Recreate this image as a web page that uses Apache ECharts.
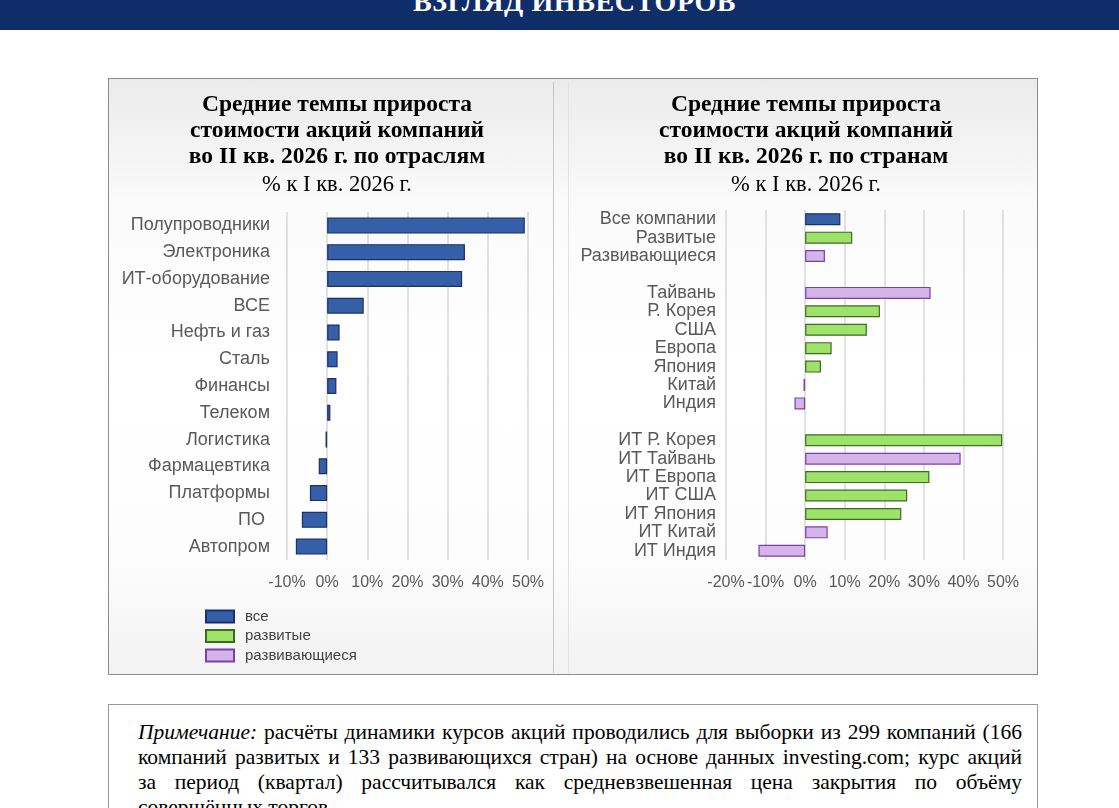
<!DOCTYPE html>
<html lang="ru">
<head>
<meta charset="utf-8">
<script src="https://cdn.jsdelivr.net/npm/echarts@6/dist/echarts.min.js"></script>
<style>
  html, body { margin:0; padding:0; width:1119px; height:808px; overflow:hidden; background:#fff; }
  #banner { position:absolute; left:0; top:0; width:1119px; height:30px; background:#0f2d69; overflow:hidden; }
  #banner span { position:absolute; left:15px; width:1119px; text-align:center; top:-12px; color:#fff;
    font-family:"Liberation Serif", serif; font-weight:bold; font-size:28px; line-height:28px; letter-spacing:0.6px; }
  #panel { position:absolute; left:108px; top:78px; width:928px; height:595px; border:1px solid #8c8c8c;
    background:linear-gradient(to bottom, #ebebeb 0%, #fbfbfb 22%, #ffffff 50%, #fdfdfd 80%, #f2f2f2 100%); }
  #sep1 { position:absolute; left:553px; top:82px; width:1px; height:591px; background:#c8c8c8; }
  #sep2 { position:absolute; left:568px; top:82px; width:1px; height:591px; background:#e2e2e2; }
  #chart { position:absolute; left:0; top:0; width:1119px; height:808px; }
  #note { position:absolute; left:108px; top:704px; width:928px; height:130px; border:1px solid #999; background:#fff; }
  #note .ln { position:absolute; left:29px; width:884px; font-family:"Liberation Serif", serif; font-size:21.5px;
    line-height:25px; color:#000; text-align:justify; text-align-last:justify; white-space:nowrap; }
  #note .ln.last { text-align-last:left; text-align:left; }
</style>
</head>
<body>
<div id="banner"><span>ВЗГЛЯД ИНВЕСТОРОВ</span></div>
<div id="panel"></div>
<div id="sep1"></div>
<div id="sep2"></div>
<div id="chart"></div>
<div id="note">
  <div class="ln" style="top:15px;"><i>Примечание:</i> расчёты динамики курсов акций проводились для выборки из 299 компаний (166</div>
  <div class="ln" style="top:40px;">компаний развитых и 133 развивающихся стран) на основе данных investing.com; курс акций</div>
  <div class="ln" style="top:65px;">за период (квартал) рассчитывался как средневзвешенная цена закрытия по объёму</div>
  <div class="ln last" style="top:90px;">совершённых торгов.</div>
</div>
<script>
// ---- data ----
const industries = ['Полупроводники','Электроника','ИТ-оборудование','ВСЕ','Нефть и газ','Сталь','Финансы','Телеком','Логистика','Фармацевтика','Платформы','ПО ','Автопром'];
const industryValues = [49.2, 34.3, 33.6, 9.1, 3.1, 2.6, 2.3, 0.8, -0.4, -2.1, -4.3, -6.3, -7.8];

const countries = ['Все компании','Развитые','Развивающиеся',' ','Тайвань','Р. Корея','США','Европа','Япония','Китай','Индия','  ','ИТ Р. Корея','ИТ Тайвань','ИТ Европа','ИТ США','ИТ Япония','ИТ Китай','ИТ Индия'];
const countryValues = [8.9, 11.9, 5.0, null, 31.7, 18.9, 15.6, 6.7, 4.0, -0.4, -2.7, null, 49.8, 39.3, 31.4, 25.8, 24.3, 5.7, -11.8];
const countryGroup = ['все','развитые','развивающиеся',null,'развивающиеся','развитые','развитые','развитые','развитые','развивающиеся','развивающиеся',null,'развитые','развивающиеся','развитые','развитые','развитые','развивающиеся','развивающиеся'];

const groups = ['все','развитые','развивающиеся'];
const groupStyle = {
  'все': { color:'#3560a8', borderColor:'#1b2f6a' },
  'развитые': { color:'#9de36a', borderColor:'#3f6b25' },
  'развивающиеся': { color:'#d5b5e8', borderColor:'#7a3fae' }
};
const titleLeft = 'Средние темпы прироста\nстоимости акций компаний\nво II кв. 2026 г. по отраслям';
const titleRight = 'Средние темпы прироста\nстоимости акций компаний\nво II кв. 2026 г. по странам';
const subTitle = '% к I кв. 2026 г.';

// ---- chart ----
const chart = echarts.init(document.getElementById('chart'), null, { renderer:'canvas' });
const pct = v => v + '%';
const xAxisCommon = {
  type:'value', interval:10,
  axisLine:{ show:false }, axisTick:{ show:false },
  axisLabel:{ formatter:pct, color:'#595959', fontSize:16, fontFamily:'Liberation Sans', margin:15 },
  splitLine:{ lineStyle:{ color:'#d9d9d9', width:1.5 } }
};
const yAxisCommon = {
  type:'category', inverse:true,
  axisLine:{ show:false }, axisTick:{ show:false }, splitLine:{ show:false }
};
const series = [{
  name:'все', type:'bar', xAxisIndex:0, yAxisIndex:0,
  data: industryValues, barWidth:16,
  itemStyle:{ color:groupStyle['все'].color, borderColor:groupStyle['все'].borderColor, borderWidth:1.2 }
}];
groups.forEach(g => {
  series.push({
    name:g, type:'bar', xAxisIndex:1, yAxisIndex:1, barWidth:12, barGap:'-100%',
    data: countryValues.map((v,i) => countryGroup[i] === g ? v : '-'),
    itemStyle:{ color:groupStyle[g].color, borderColor:groupStyle[g].borderColor, borderWidth:1.2 }
  });
});
const titleStyle = { color:'#000', fontFamily:'Liberation Serif', fontWeight:'bold', fontSize:23.5, lineHeight:26 };
const subStyle = { color:'#000', fontFamily:'Liberation Serif', fontWeight:'normal', fontSize:22.5, lineHeight:26 };
chart.setOption({
  animation:false,
  backgroundColor:'transparent',
  title:[
    { text:titleLeft, subtext:subTitle, left:337, textAlign:'center', top:92, itemGap:2, padding:0,
      textStyle:titleStyle, subtextStyle:subStyle },
    { text:titleRight, subtext:subTitle, left:806, textAlign:'center', top:92, itemGap:2, padding:0,
      textStyle:titleStyle, subtextStyle:subStyle }
  ],
  legend:{
    data:groups.map(n => ({ name:n, icon:'rect' })), orient:'vertical', left:205, top:609, padding:0,
    itemWidth:28, itemHeight:12, itemGap:4.5,
    textStyle:{ color:'#404040', fontSize:15, fontFamily:'Liberation Sans', padding:[0,0,0,6] },
    selectedMode:false
  },
  grid:[
    { left:287, top:212, width:241, height:348 },
    { left:726, top:210, width:277, height:350 }
  ],
  xAxis:[
    Object.assign({}, xAxisCommon, { gridIndex:0, min:-10, max:50 }),
    Object.assign({}, xAxisCommon, { gridIndex:1, min:-20, max:50 })
  ],
  yAxis:[
    Object.assign({}, yAxisCommon, { gridIndex:0, data:industries,
      axisLabel:{ color:'#595959', fontSize:18, fontFamily:'Liberation Sans', margin:17 } }),
    Object.assign({}, yAxisCommon, { gridIndex:1, data:countries,
      axisLabel:{ color:'#595959', fontSize:18, fontFamily:'Liberation Sans', margin:10, interval:0 } })
  ],
  series: series
});
</script>
</body>
</html>
